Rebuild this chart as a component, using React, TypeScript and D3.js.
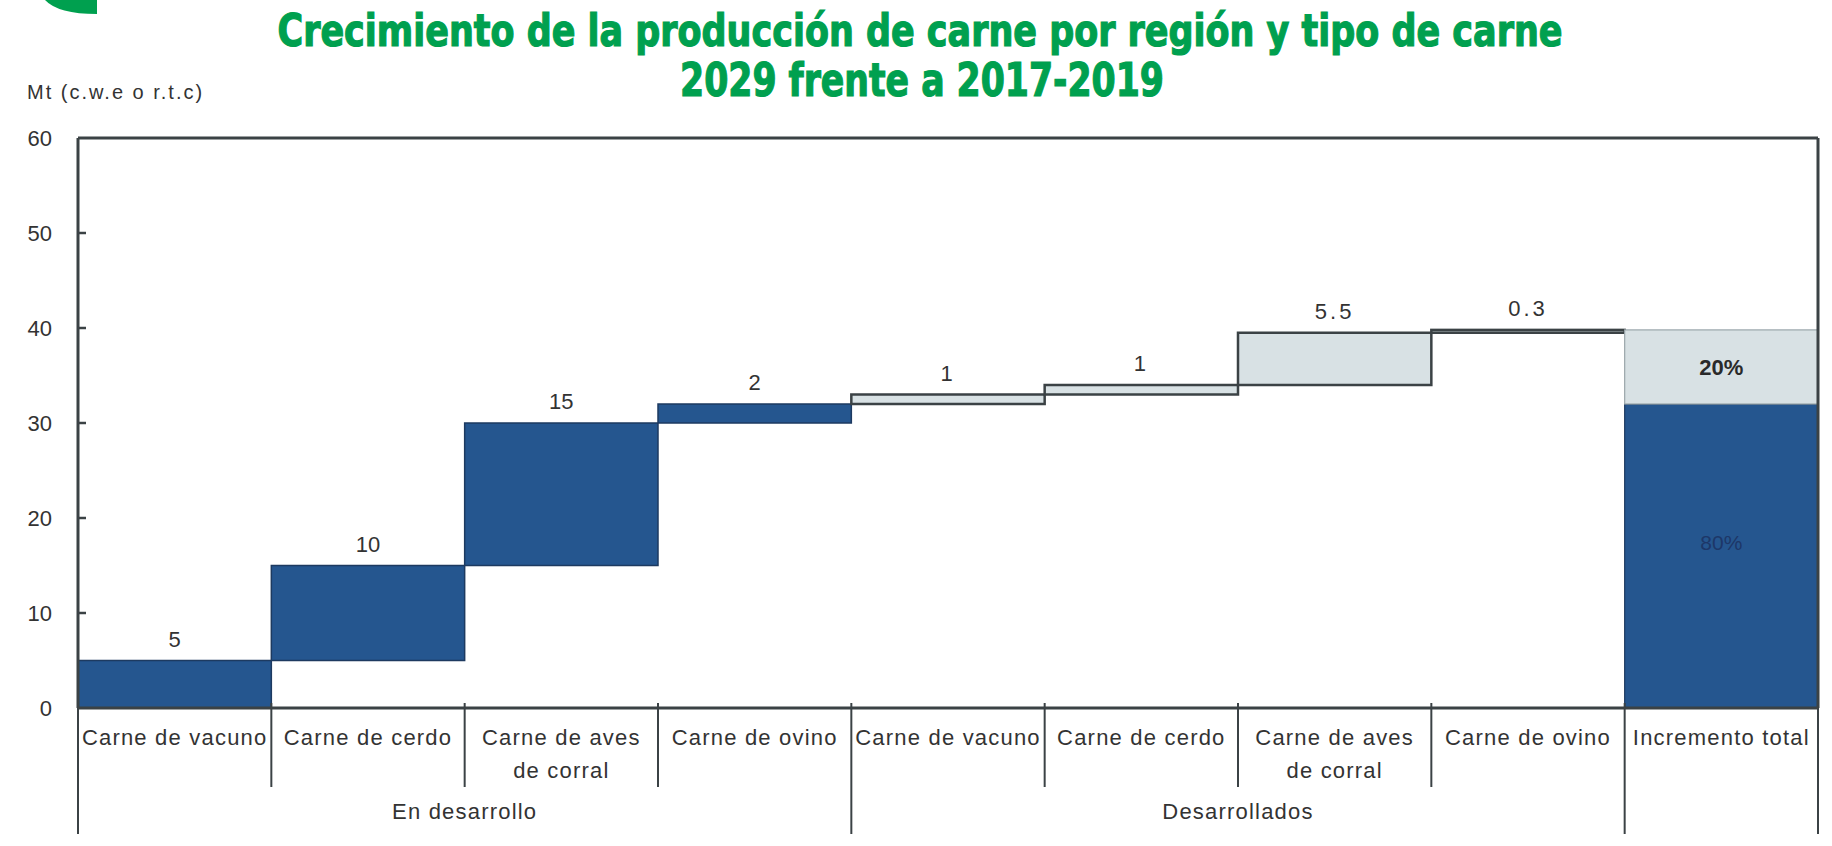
import React from "react";
import * as d3 from "d3";

// ---------- data ----------
const categoryLines: string[][] = [
  ["Carne de vacuno"],
  ["Carne de cerdo"],
  ["Carne de aves", "de corral"],
  ["Carne de ovino"],
  ["Carne de vacuno"],
  ["Carne de cerdo"],
  ["Carne de aves", "de corral"],
  ["Carne de ovino"],
  ["Incremento total"],
];
const stepValues = [5, 10, 15, 2, 1, 1, 5.5, 0.3];
const stepLabels = ["5", "10", "15", "2", "1", "1", "5.5", "0.3"];
const stepRegion = ["dev", "dev", "dev", "dev", "ded", "ded", "ded", "ded"];
const groupNames = ["En desarrollo", "Desarrollados"];
const groupSpans = [
  [0, 3],
  [4, 7],
];
const totalShareLabels = ["80%", "20%"];
const yTicks = [0, 10, 20, 30, 40, 50, 60];
const titleLines = [
  "Crecimiento de la producción de carne por región y tipo de carne",
  "2029 frente a 2017-2019",
];
const unitLabel = "Mt (c.w.e o r.t.c)";

// ---------- styling ----------
const W = 1832;
const H = 846;
const BLUE = "#25568f";
const GRAY = "#d8e1e4";
const LINE = "#3b4245";
const TEXT = "#333333";
const GREEN = "#00a04f";
const FONT = "'Liberation Sans', Arial, sans-serif";
const TITLE_FONT = "'Liberation Sans Narrow', 'DejaVu Sans Condensed', 'Roboto', sans-serif";

export default function App() {
  const left = 78;
  const right = 1818;
  const top = 138;
  const zero = 708;

  const ids = categoryLines.map((_, i) => String(i));
  const x = d3.scaleBand<string>().domain(ids).range([left, right]).padding(0);
  const y = d3.scaleLinear().domain([0, 60]).range([zero, top]);

  const cum = Array.from(d3.cumsum(stepValues));
  const starts = cum.map((c, i) => c - stepValues[i]);

  const devTotal = d3.sum(stepValues.filter((_, i) => stepRegion[i] === "dev"));
  const grandTotal = d3.sum(stepValues);
  const totalSegs = [
    { from: 0, to: devTotal, fill: BLUE },
    { from: devTotal, to: grandTotal, fill: GRAY },
  ];
  const totalX = x(String(categoryLines.length - 1))!;
  const bw = x.bandwidth();

  const boundaries = d3.range(categoryLines.length + 1).map((i) =>
    i < categoryLines.length ? x(String(i))! : right
  );
  const groupBoundaryIdx = new Set([0, 4, 8, 9]);

  const catLine1Y = 745;
  const catLine2Y = 778;
  const groupY = 819;
  const innerDivBottom = 787;
  const groupDivBottom = 834;

  return (
    <svg width={W} height={H} style={{ position: "absolute", left: 0, top: 0, background: "#fff" }}>
      <rect x={0} y={0} width={W} height={H} fill="#fff" />
      {/* decorative logo fragment */}
      <path d="M45,0 Q58,14 97,14 L97,0 Z" fill={GREEN} />

      {/* titles */}
      <text
        x={920}
        y={46}
        textAnchor="middle"
        fill={GREEN}
        stroke={GREEN}
        strokeWidth={1.2}
        fontFamily={TITLE_FONT}
        fontWeight="bold"
        fontSize={45}
        textLength={1285}
        lengthAdjust="spacingAndGlyphs"
      >
        {titleLines[0]}
      </text>
      <text
        x={922}
        y={96}
        textAnchor="middle"
        fill={GREEN}
        stroke={GREEN}
        strokeWidth={1.2}
        fontFamily={TITLE_FONT}
        fontWeight="bold"
        fontSize={47}
        textLength={484}
        lengthAdjust="spacingAndGlyphs"
      >
        {titleLines[1]}
      </text>

      {/* unit label */}
      <text x={27} y={99} fill={TEXT} fontFamily={FONT} fontSize={20} letterSpacing={2}>
        {unitLabel}
      </text>

      {/* y tick labels */}
      {yTicks.map((t) => (
        <text
          key={t}
          x={52}
          y={y(t) + 8}
          textAnchor="end"
          fill={TEXT}
          fontFamily={FONT}
          fontSize={22}
        >
          {t}
        </text>
      ))}

      {/* waterfall steps */}
      {stepValues.map((v, i) => {
        const x0 = x(String(i))!;
        const y0 = y(cum[i]);
        const y1 = y(starts[i]);
        const isDev = stepRegion[i] === "dev";
        return (
          <g key={i}>
            <rect
              x={x0}
              y={y0}
              width={bw}
              height={Math.max(y1 - y0, 0.5)}
              fill={isDev ? BLUE : GRAY}
              stroke={isDev ? "#1d3a60" : LINE}
              strokeWidth={isDev ? 1.5 : 2.5}
            />
            <text
              x={x0 + bw / 2}
              y={y0 - 14}
              textAnchor="middle"
              fill={TEXT}
              fontFamily={FONT}
              fontSize={22}
              letterSpacing={isDev ? 0 : 3}
            >
              {stepLabels[i]}
            </text>
          </g>
        );
      })}

      {/* total column */}
      {totalSegs.map((s, i) => (
        <rect
          key={i}
          x={totalX}
          y={y(s.to)}
          width={bw}
          height={y(s.from) - y(s.to)}
          fill={s.fill}
          stroke={i === 0 ? "#1d3a60" : "#9aa6aa"}
          strokeWidth={1.2}
        />
      ))}
      <text
        x={totalX + bw / 2}
        y={(y(totalSegs[0].from) + y(totalSegs[0].to)) / 2 - 6}
        textAnchor="middle"
        fill="#1d3768"
        fontFamily={FONT}
        fontSize={21}
      >
        {totalShareLabels[0]}
      </text>
      <text
        x={totalX + bw / 2}
        y={(y(totalSegs[1].from) + y(totalSegs[1].to)) / 2 + 8}
        textAnchor="middle"
        fill="#2a2a2a"
        fontFamily={FONT}
        fontWeight="bold"
        fontSize={22}
      >
        {totalShareLabels[1]}
      </text>

      {/* frame */}
      <line x1={left} x2={right} y1={top} y2={top} stroke={LINE} strokeWidth={3} />
      <line x1={left} x2={left} y1={top} y2={zero} stroke={LINE} strokeWidth={3} />
      <line x1={right} x2={right} y1={top} y2={zero} stroke={LINE} strokeWidth={3} />
      <line x1={left} x2={right} y1={zero} y2={zero} stroke={LINE} strokeWidth={3} />
      {yTicks
        .filter((t) => t > 0 && t < 60)
        .map((t) => (
          <line key={t} x1={left} x2={left + 8} y1={y(t)} y2={y(t)} stroke={LINE} strokeWidth={2.5} />
        ))}

      {/* category dividers */}
      {boundaries.map((bx, i) => (
        <line
          key={i}
          x1={bx}
          x2={bx}
          y1={zero - 5}
          y2={groupBoundaryIdx.has(i) ? groupDivBottom : innerDivBottom}
          stroke={LINE}
          strokeWidth={2}
        />
      ))}

      {/* category labels */}
      {categoryLines.map((lines, i) =>
        lines.map((ln, j) => (
          <text
            key={`${i}-${j}`}
            x={x(String(i))! + bw / 2}
            y={j === 0 ? catLine1Y : catLine2Y}
            textAnchor="middle"
            fill={TEXT}
            fontFamily={FONT}
            fontSize={22}
            letterSpacing={1.2}
          >
            {ln}
          </text>
        ))
      )}

      {/* group labels */}
      {groupNames.map((g, k) => {
        const a = x(String(groupSpans[k][0]))!;
        const b = x(String(groupSpans[k][1]))! + bw;
        return (
          <text
            key={g}
            x={(a + b) / 2}
            y={groupY}
            textAnchor="middle"
            fill={TEXT}
            fontFamily={FONT}
            fontSize={22}
            letterSpacing={1.2}
          >
            {g}
          </text>
        );
      })}
    </svg>
  );
}
